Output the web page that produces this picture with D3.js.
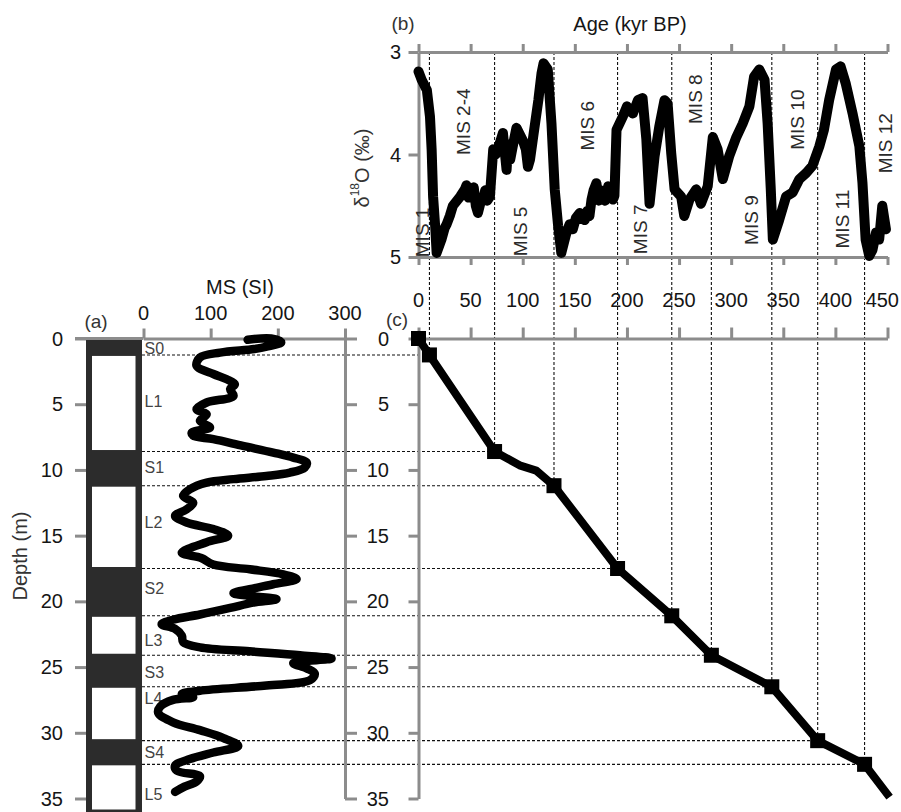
<!DOCTYPE html>
<html><head><meta charset="utf-8">
<script src="https://cdn.jsdelivr.net/npm/d3@7"></script>
<style>body{margin:0;background:#fff}svg{display:block}text{font-family:"Liberation Sans",Arial,sans-serif}</style>
</head><body>
<svg id="c" width="901" height="812"></svg>
<script>
// ---------- data ----------
const ageTicks = [0,50,100,150,200,250,300,350,400,450];
const d18Ticks = [3,4,5];
const depthTicks = [0,5,10,15,20,25,30,35];
const msTicks = [0,100,200,300];

const d18Age = [0,3,8,11,12.6,14,16,17.4,22,25,27,30,33,40,44.5,46,48,51,53,55,57,60,62,64,66,68.5,71.7,74,76,78,81,84.5,86,88,91,94,97,100,103,105,107,110,115,118,120,124,127.6,130.7,134,137,142,145,148,151,154.7,156,159.5,162,164,166,168,170.7,173,175,177,179,182,184,186.6,188,190,196,200,205.7,210.5,215,218.6,221.7,226.5,231,236,239,242.5,245.7,252,255,260,266.5,271,277.5,282.4,287,292,298,305,311,317.5,322,327,332,335,338,340,346,352.7,359,365.5,372,378,384.6,389,394,400.6,405,410,416.5,423,426,429,432.5,435.6,439,442,445,448.5];
const d18Val = [3.19,3.27,3.37,3.63,3.95,4.41,4.70,4.96,4.83,4.72,4.68,4.6,4.5,4.41,4.34,4.30,4.42,4.37,4.32,4.5,4.57,4.45,4.44,4.35,4.45,4.41,3.95,4.0,3.95,3.89,3.79,4.15,3.9,4.05,3.89,3.74,3.8,3.86,3.95,4.12,4.05,3.83,3.47,3.21,3.11,3.17,3.70,4.34,4.70,4.96,4.76,4.68,4.73,4.62,4.57,4.62,4.64,4.55,4.6,4.44,4.35,4.28,4.45,4.35,4.41,4.45,4.31,4.35,4.44,4.4,3.76,3.63,3.53,3.60,3.47,3.45,3.85,4.48,4.02,3.73,3.47,3.50,3.99,4.34,4.41,4.60,4.44,4.34,4.48,4.31,3.83,3.95,4.24,4.02,3.83,3.70,3.53,3.24,3.17,3.27,3.70,4.34,4.83,4.64,4.41,4.37,4.24,4.18,4.11,3.92,3.76,3.47,3.17,3.14,3.31,3.60,3.92,4.28,4.83,4.99,4.93,4.76,4.83,4.50,4.73];

const msDepth = [0.1,0.0,0.3,0.6,0.8,1.07,1.45,2.08,2.7,3.1,3.48,3.86,4.37,4.87,5.38,5.76,6.27,6.77,7.15,7.4,7.66,8.17,8.68,9.06,9.44,9.82,10.2,10.46,10.7,10.96,11.47,11.98,12.5,13,13.5,14,14.5,15,15.5,16.3,16.7,17.2,17.56,17.94,18.3,18.7,19.08,19.38,19.6,19.84,20.1,20.5,21,21.4,21.74,22.1,22.6,23.1,23.5,23.8,24.1,24.35,24.7,25.1,25.5,26,26.4,26.8,27.05,27.3,27.5,28,28.5,29.2,29.8,30.4,31,31.5,32,32.5,32.9,33.3,33.7,34.1,34.5];
const msValue = [155,190,205,185,165,114,84,79,104,124,136,129,134,94,79,94,84,99,72,74,104,148,193,223,243,240,218,183,134,94,69,59,74,64,47,64,104,126,94,57,86,104,158,208,228,193,158,134,163,198,163,129,84,44,27,47,57,59,84,158,233,280,223,243,255,248,183,84,57,74,44,25,22,44,84,119,141,104,69,47,50,84,79,61,47];

const unitNames = ["S0","L1","S1","L2","S2","L3","S3","L4","S4","L5"];
const unitTop =    [0,1.25,8.6,11.2,17.5,21.1,24.1,26.5,30.6,32.4];
const unitBottom = [1.25,8.6,11.2,17.5,21.1,24.1,26.5,30.6,32.4,36.1];
const unitLabelDepth = [0.75,4.8,9.8,14.0,19.0,23.0,25.4,27.4,31.5,34.7];

const tieAge =   [0,10.5,73,97,113,130,191,243,281,339,383,428,452];
const tieDepth = [0,1.25,8.6,9.65,10.05,11.2,17.5,21.1,24.1,26.5,30.6,32.4,34.9];
const tieMarker = [1,1,1,0,0,1,1,1,1,1,1,1,0];

const misNames = ["MIS 1","MIS 2-4","MIS 5","MIS 6","MIS 7","MIS 8","MIS 9","MIS 10","MIS 11","MIS 12"];
const misAge = [4.3,43,98,162,213,266,319.5,363.5,406.6,448];
const misD18 = [4.76,3.68,4.75,3.72,4.73,3.46,4.64,3.66,4.63,3.89];

// ---------- drawing ----------
const svg = d3.select("#c");
svg.append("rect").attr("width",901).attr("height",812).attr("fill","#fff");

const ageX = d3.scaleLinear().domain([0,450]).range([418.5,887.5]);
const d18Y = d3.scaleLinear().domain([3,5]).range([52,257]);
const depthY = d3.scaleLinear().domain([0,35]).range([338.5,798.5]);
const msX = d3.scaleLinear().domain([0,300]).range([143.5,345]);

const AX = "#8c8c8c", TXT = "#151515";

// strata column
const col = svg.append("g");
col.append("rect").attr("x",86).attr("y",depthY(0)).attr("width",56).attr("height",814-depthY(0)).attr("fill","#2c2c2c");
unitNames.forEach((n,i)=>{
  if(n[0]==="L"){
    col.append("rect").attr("x",92).attr("width",43.5)
      .attr("y",depthY(unitTop[i])+1).attr("height",Math.min(depthY(unitBottom[i]),811)-depthY(unitTop[i])-2.5)
      .attr("fill","#fff");
  }
});

// dotted tie lines
const dots = svg.append("g").attr("stroke","#111").attr("stroke-width",1.1).attr("stroke-dasharray","3,2").attr("fill","none");
tieAge.forEach((a,i)=>{
  if(i===0 || !tieMarker[i]) return;
  dots.append("line").attr("x1",142).attr("x2",ageX(a)).attr("y1",depthY(tieDepth[i])).attr("y2",depthY(tieDepth[i]));
  dots.append("line").attr("x1",ageX(a)).attr("x2",ageX(a)).attr("y1",d18Y(3)).attr("y2",depthY(tieDepth[i]));
});

function styleAxis(g){
  g.selectAll("path,line").attr("stroke",AX).attr("stroke-width",3);
  g.selectAll("text").remove();
}
// panel b axes
svg.append("g").attr("transform",`translate(0,${d18Y(3)})`).call(d3.axisTop(ageX).tickValues(ageTicks).tickSize(8).tickSizeOuter(0)).call(styleAxis);
svg.append("g").attr("transform",`translate(0,${d18Y(5)})`).call(d3.axisBottom(ageX).tickValues(ageTicks).tickSize(8).tickSizeOuter(0)).call(styleAxis);
svg.append("g").attr("transform",`translate(${ageX(0)},0)`).call(d3.axisLeft(d18Y).tickValues(d18Ticks).tickSize(10).tickSizeOuter(0)).call(styleAxis);
// panel c axes
svg.append("g").attr("transform",`translate(0,${depthY(0)})`).call(d3.axisTop(ageX).tickValues(ageTicks).tickSize(11).tickSizeOuter(0)).call(styleAxis);
svg.append("g").attr("transform",`translate(${ageX(0)},0)`).call(d3.axisLeft(depthY).tickValues(depthTicks).tickSize(10).tickSizeOuter(0)).call(styleAxis);
// panel a axes
svg.append("g").attr("transform",`translate(0,${depthY(0)})`).call(d3.axisTop(msX).tickValues(msTicks).tickSize(10).tickSizeOuter(0)).call(styleAxis);
svg.append("line").attr("x1",75).attr("x2",msX(0)).attr("y1",depthY(0)).attr("y2",depthY(0)).attr("stroke",AX).attr("stroke-width",3);
const la = svg.append("g").attr("transform",`translate(86,0)`).call(d3.axisLeft(depthY).tickValues(depthTicks).tickSize(11).tickSizeOuter(0)).call(styleAxis);
la.select("path").remove();
svg.append("g").attr("transform",`translate(${msX(300)},0)`).call(d3.axisRight(depthY).tickValues(depthTicks).tickSize(12).tickSizeOuter(0)).call(styleAxis);

// tick labels
const lab = svg.append("g").attr("fill",TXT).attr("font-size",20);
ageTicks.forEach((t,i)=>{
  const last = i===ageTicks.length-1;
  lab.append("text").attr("x",last?899:ageX(t)).attr("y",300)
    .attr("text-anchor",last?"end":"middle").attr("dominant-baseline","central").text(t);
});
d18Ticks.forEach(t=>lab.append("text").attr("x",401).attr("y",d18Y(t)).attr("text-anchor","end").attr("dominant-baseline","central").text(t));
depthTicks.forEach(t=>{
  lab.append("text").attr("x",63).attr("y",depthY(t)).attr("text-anchor","end").attr("dominant-baseline","central").text(t);
  lab.append("text").attr("x",389).attr("y",depthY(t)).attr("text-anchor","end").attr("dominant-baseline","central").text(t);
});
msTicks.forEach(t=>lab.append("text").attr("x",msX(t)).attr("y",313).attr("text-anchor","middle").attr("dominant-baseline","central").text(t));

// titles
const tt = svg.append("g").attr("fill",TXT).attr("font-size",20);
tt.append("text").attr("x",630).attr("y",24).attr("text-anchor","middle").attr("dominant-baseline","central").text("Age (kyr BP)");
tt.append("text").attr("x",240).attr("y",287).attr("text-anchor","middle").attr("dominant-baseline","central").text("MS (SI)");
tt.append("text").attr("x",403).attr("y",23).attr("text-anchor","middle").attr("dominant-baseline","central").attr("fill","#333").attr("font-size",19).text("(b)");
tt.append("text").attr("x",96).attr("y",321).attr("text-anchor","middle").attr("dominant-baseline","central").attr("fill","#333").attr("font-size",19).text("(a)");
tt.append("text").attr("x",397).attr("y",319).attr("text-anchor","middle").attr("dominant-baseline","central").attr("fill","#333").attr("font-size",19).text("(c)");
tt.append("text").attr("transform","translate(20,556) rotate(-90)").attr("text-anchor","middle").attr("dominant-baseline","central").attr("fill","#333").text("Depth (m)");
const yt = tt.append("text").attr("transform","translate(362,168) rotate(-90)").attr("text-anchor","middle").attr("dominant-baseline","central").attr("fill","#333");
yt.append("tspan").text("δ");
yt.append("tspan").attr("font-size",12).attr("dy",-7).text("18");
yt.append("tspan").attr("dy",7).text("O (‰)");

// MIS labels
const mis = svg.append("g").attr("fill","#2a2a2a").attr("font-size",19);
misNames.forEach((n,i)=>mis.append("text")
  .attr("transform",`translate(${ageX(misAge[i])},${d18Y(misD18[i])}) rotate(-90)`)
  .attr("text-anchor","middle").attr("dominant-baseline","central").text(n));

// unit labels
const ul = svg.append("g").attr("fill","#444").attr("font-size",16);
unitNames.forEach((n,i)=>ul.append("text").attr("x",144.5).attr("y",depthY(unitLabelDepth[i])).attr("dominant-baseline","central").text(n));

// d18O curve
const d18Data = d18Age.map((a,i)=>[a,d18Val[i]]);
svg.append("path").datum(d18Data)
  .attr("d",d3.line().x(d=>ageX(d[0])).y(d=>d18Y(d[1])))
  .attr("fill","none").attr("stroke","#000").attr("stroke-width",10).attr("stroke-linejoin","round").attr("stroke-linecap","round");

// MS curve
const msData = msDepth.map((d,i)=>[msValue[i],d]);
svg.append("path").datum(msData)
  .attr("d",d3.line().x(d=>msX(d[0])).y(d=>depthY(d[1])).curve(d3.curveCatmullRom.alpha(0.5)))
  .attr("fill","none").attr("stroke","#000").attr("stroke-width",8.5).attr("stroke-linejoin","round").attr("stroke-linecap","round");

// age-depth line
const tie = tieAge.map((a,i)=>[a,tieDepth[i],tieMarker[i]]);
svg.append("path").datum(tie)
  .attr("d",d3.line().x(d=>ageX(d[0])).y(d=>depthY(d[1])))
  .attr("fill","none").attr("stroke","#000").attr("stroke-width",8).attr("stroke-linejoin","round");
svg.append("g").selectAll("rect").data(tie.filter(d=>d[2])).join("rect")
  .attr("x",d=>ageX(d[0])-7.5).attr("y",d=>depthY(d[1])-7.5).attr("width",15).attr("height",15).attr("fill","#000");
</script>
</body></html>
